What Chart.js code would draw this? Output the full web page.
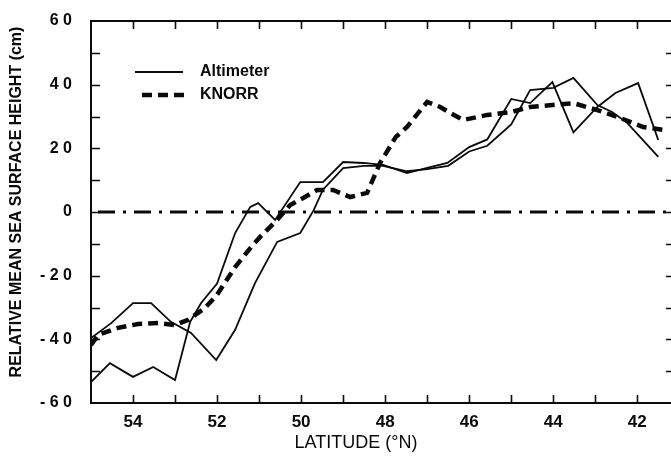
<!DOCTYPE html>
<html>
<head>
<meta charset="utf-8">
<script src="https://cdn.jsdelivr.net/npm/chart.js@4.4.1/dist/chart.umd.min.js"></script>
<style>
  html, body { margin: 0; padding: 0; background: #fff; overflow: hidden; }
  #wrap { width: 671px; height: 462px; overflow: hidden; position: relative; }
  canvas { display: block; }
</style>
</head>
<body>
<div id="wrap"><canvas id="c" width="673" height="462"></canvas></div>
<script>
// ---- data ----
const altALat = [55.0, 54.52, 54.0, 53.57, 53.1, 52.62, 52.02, 51.57, 51.1, 50.57, 50.02, 49.7, 49.48, 49.0, 48.5, 48.05, 47.48, 47.0, 46.5, 46.0, 45.57, 45.0, 44.55, 44.0, 43.52, 42.95, 42.6, 42.24, 41.5];
const altA    = [-39.6, -34.9, -28.6, -28.6, -34.5, -38.0, -46.5, -37.0, -22.4, -9.4, -6.6, 0.6, 7.0, 13.8, 14.5, 14.5, 12.8, 13.5, 14.5, 19.0, 20.8, 27.5, 38.3, 39.0, 42.1, 33.6, 31.4, 28.0, 17.3];

const altBLat = [55.0, 54.55, 54.0, 53.52, 53.0, 52.64, 52.38, 52.0, 51.57, 51.21, 51.02, 50.62, 50.02, 49.48, 49.0, 48.52, 48.05, 47.48, 46.93, 46.52, 46.0, 45.57, 45.0, 44.55, 44.02, 43.52, 42.95, 42.52, 41.98, 41.5];
const altB    = [-53.4, -47.5, -51.8, -48.7, -52.8, -34.5, -28.6, -22.5, -6.6, 1.6, 2.8, -2.5, 9.4, 9.4, 15.7, 15.4, 14.8, 12.2, 14.1, 15.4, 20.4, 22.8, 35.5, 34.2, 40.8, 25.0, 33.0, 37.4, 40.5, 22.6];

const knorrLat = [55.0, 54.83, 54.36, 53.88, 53.4, 53.0, 52.69, 52.29, 52.0, 51.57, 51.19, 50.98, 50.57, 50.26, 49.95, 49.62, 49.24, 48.83, 48.43, 48.12, 47.75, 47.48, 47.0, 46.69, 46.45, 46.14, 45.57, 45.0, 44.55, 44.02, 43.52, 42.95, 42.48, 42.17, 41.86, 41.38];
const knorr    = [-41.8, -38.6, -36.4, -35.2, -34.9, -35.5, -33.9, -30.2, -26.0, -17.3, -11.0, -7.9, -2.5, 2.2, 4.4, 6.9, 6.9, 4.7, 6.0, 15.4, 23.5, 26.7, 34.6, 33.0, 31.1, 28.9, 30.5, 31.4, 33.0, 33.6, 34.2, 32.0, 29.9, 28.3, 26.7, 25.8];

const zeroLat  = [55.0, 41.15];
const zeroVal  = [0, 0];

const xTickLabels = [54, 52, 50, 48, 46, 44, 42];
const xMinorTicks = [54, 53, 52, 51, 50, 49, 48, 47, 46, 45, 44, 43, 42];
const yTickLabels = [-60, -40, -20, 0, 20, 40, 60];
const yMinorTicks = [-50, -40, -30, -20, -10, 0, 10, 20, 30, 40, 50];

const seriesNames = ['Altimeter', 'KNORR'];
const xTitle = 'LATITUDE (°N)';
const yTitle = 'RELATIVE MEAN SEA SURFACE HEIGHT (cm)';

const pts = (xs, ys) => xs.map((x, i) => ({ x: x, y: ys[i] }));

const INK = '#0a0a0a';
const FONT = '"Liberation Sans", Arial, Helvetica, sans-serif';

const framePlugin = {
  id: 'frame',
  afterDraw(chart) {
    const ctx = chart.ctx;
    const { left, right, top, bottom } = chart.chartArea;
    const xs = chart.scales.x, ys = chart.scales.y;
    ctx.save();
    ctx.strokeStyle = INK;
    ctx.lineWidth = 2;
    ctx.beginPath();
    ctx.moveTo(left, top); ctx.lineTo(right, top);
    ctx.moveTo(right, top); ctx.lineTo(right, bottom);
    ctx.stroke();
    ctx.lineWidth = 1.6;
    ctx.beginPath();
    xMinorTicks.forEach(v => {
      const p = Math.round(xs.getPixelForValue(v)) + 0.5;
      ctx.moveTo(p, bottom); ctx.lineTo(p, bottom - 8);
      ctx.moveTo(p, top); ctx.lineTo(p, top + 8);
    });
    yMinorTicks.forEach(v => {
      const p = Math.round(ys.getPixelForValue(v)) + 0.5;
      ctx.moveTo(left, p); ctx.lineTo(left + 9, p);
      ctx.moveTo(right, p); ctx.lineTo(right - 7, p);
    });
    ctx.stroke();

    // axis titles
    ctx.fillStyle = INK;
    ctx.font = '18px ' + FONT;
    ctx.textAlign = 'center';
    ctx.textBaseline = 'middle';
    ctx.fillText(xTitle, 356, 443);
    ctx.save();
    ctx.translate(17, 202);
    ctx.rotate(-Math.PI / 2);
    ctx.font = 'bold 16px ' + FONT;
    ctx.fillText(yTitle, 0, 0);
    ctx.restore();

    // legend
    const dsA = chart.data.datasets[0], dsK = chart.data.datasets[2];
    ctx.strokeStyle = INK;
    ctx.lineWidth = dsA.borderWidth;
    ctx.setLineDash([]);
    ctx.beginPath(); ctx.moveTo(135, 72); ctx.lineTo(183, 72); ctx.stroke();
    ctx.lineWidth = dsK.borderWidth;
    ctx.setLineDash(dsK.borderDash);
    ctx.beginPath(); ctx.moveTo(142, 95); ctx.lineTo(185, 95); ctx.stroke();
    ctx.setLineDash([]);
    ctx.font = 'bold 16px ' + FONT;
    ctx.textAlign = 'left';
    ctx.fillText(seriesNames[0], 200, 72);
    ctx.fillText(seriesNames[1], 200, 95);
    ctx.restore();
  }
};

new Chart(document.getElementById('c'), {
  type: 'line',
  data: {
    datasets: [
      { label: seriesNames[0], data: pts(altALat, altA), borderColor: INK, borderWidth: 1.8, pointRadius: 0, tension: 0, fill: false },
      { label: seriesNames[0], data: pts(altBLat, altB), borderColor: INK, borderWidth: 1.8, pointRadius: 0, tension: 0, fill: false },
      { label: seriesNames[1], data: pts(knorrLat, knorr), borderColor: INK, borderWidth: 4.5, borderDash: [10, 6], pointRadius: 0, tension: 0, fill: false },
      { label: 'zero', data: pts(zeroLat, zeroVal), borderColor: INK, borderWidth: 2.8, borderDash: [17, 8, 3, 8], borderDashOffset: -7, pointRadius: 0, fill: false }
    ]
  },
  options: {
    responsive: false,
    animation: false,
    devicePixelRatio: 1,
    layout: { padding: { top: 21, left: 0, right: 0, bottom: 0 } },
    plugins: { legend: { display: false }, tooltip: { enabled: false } },
    scales: {
      x: {
        type: 'linear', reverse: true, min: 41.15, max: 55,
        afterBuildTicks: s => { s.ticks = xTickLabels.map(v => ({ value: v })); },
        afterFit: s => { s.height = 59; },
        grid: { display: false },
        border: { display: true, color: INK, width: 2 },
        ticks: { color: INK, padding: 1, maxRotation: 0, autoSkip: false, font: { family: FONT, size: 17, weight: 'bold' } }
      },
      y: {
        type: 'linear', min: -60, max: 60,
        afterBuildTicks: s => { s.ticks = yTickLabels.map(v => ({ value: v })); },
        afterFit: s => { s.width = 91; },
        grid: { display: false },
        border: { display: true, color: INK, width: 2 },
        ticks: {
          color: INK, padding: 11, autoSkip: false,
          font: { family: FONT, size: 16, weight: 'bold' },
          callback: v => String(v).replace('-', '- ').split('').join(' ').replace(/ {2,}/g, ' ').replace('-  ', '- ')
        }
      }
    }
  },
  plugins: [framePlugin]
});
</script>
</body>
</html>
